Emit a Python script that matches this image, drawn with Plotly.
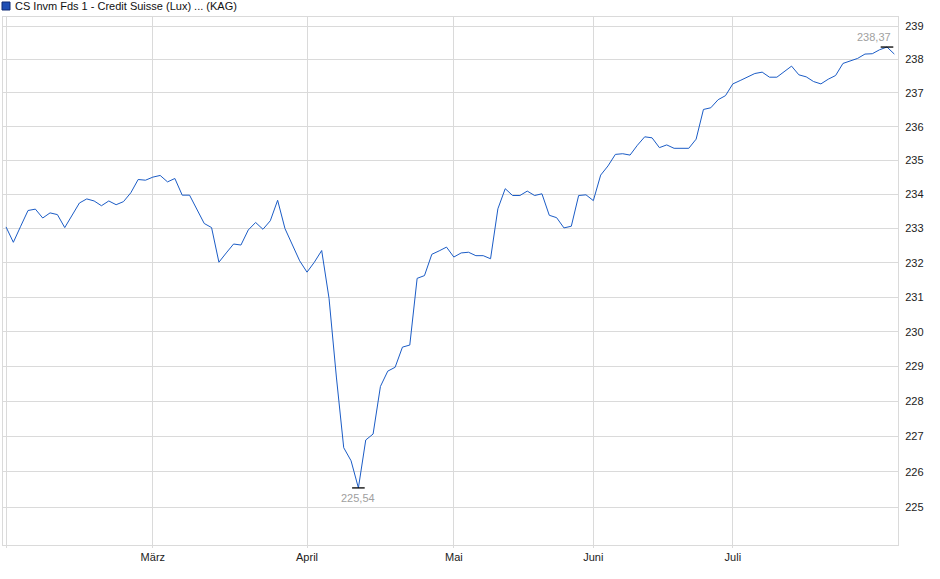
import numpy as np
import pandas as pd
import plotly.graph_objects as go

# fund business days (Luxembourg calendar), Feb - Jul 2025
holidays = ["2025-04-18", "2025-04-21", "2025-05-01", "2025-05-09",
            "2025-05-29", "2025-06-09", "2025-06-23"]
dates = pd.bdate_range("2025-02-03", "2025-07-31", freq="C", holidays=holidays).strftime("%Y-%m-%d").tolist()

prices = [
    233.05, 232.60, 233.07, 233.53, 233.57, 233.31, 233.46, 233.41, 233.03, 233.38,
    233.75, 233.87, 233.81, 233.67, 233.81, 233.70, 233.79, 234.05, 234.44, 234.42,
    234.51, 234.56, 234.37, 234.47, 233.98, 233.98, 233.54, 233.15, 233.03, 232.02,
    232.29, 232.55, 232.52, 232.96, 233.18, 232.98, 233.23, 233.83, 233.00, 232.52,
    232.06, 231.73, 232.02, 232.36, 230.97, 228.70, 226.68, 226.31, 225.54, 226.90,
    227.07, 228.43, 228.87, 228.98, 229.56, 229.62, 231.55, 231.63, 232.25, 232.35,
    232.46, 232.17, 232.29, 232.31, 232.21, 232.21, 232.12, 233.58, 234.17, 233.97,
    233.97, 234.10, 233.97, 234.02, 233.39, 233.32, 233.02, 233.07, 233.97, 233.99,
    233.82, 234.57, 234.84, 235.18, 235.20, 235.16, 235.45, 235.70, 235.67, 235.38,
    235.46, 235.36, 235.36, 235.36, 235.63, 236.51, 236.56, 236.80, 236.92, 237.27,
    237.37, 237.47, 237.58, 237.62, 237.47, 237.47, 237.64, 237.80, 237.54, 237.48,
    237.34, 237.27, 237.41, 237.52, 237.88, 237.95, 238.03, 238.16, 238.17, 238.29,
    238.37, 238.16,
]
assert len(dates) == len(prices), (len(dates), len(prices))

tick_dates = ["2025-02-03", "2025-03-03", "2025-04-01", "2025-05-02", "2025-06-02", "2025-07-01"]
tick_labels = ["", "März", "April", "Mai", "Juni", "Juli"]
y_ticks = list(range(225, 240))

title = "CS Invm Fds 1 - Credit Suisse (Lux) ... (KAG)"
line_col = "#1b5cc6"
grid_col = "#dadada"

i_min = int(np.argmin(prices))
i_max = int(np.argmax(prices))

fig = go.Figure()
fig.add_trace(go.Scatter(x=dates, y=prices, mode="lines",
                         line=dict(color=line_col, width=1), hoverinfo="x+y"))
fig.add_trace(go.Scatter(x=[dates[i_min], dates[i_max]], y=[prices[i_min], prices[i_max]],
                         mode="markers",
                         marker=dict(symbol="line-ew", size=9, line=dict(color="black", width=1.3)),
                         hoverinfo="skip"))

fig.add_annotation(x=dates[i_min], y=np.log10(prices[i_min]), text=f"{prices[i_min]:.2f}".replace(".", ","),
                   showarrow=False, yanchor="top", yshift=-2,
                   font=dict(size=11, color="#a0a0a0"))
fig.add_annotation(x=dates[i_max], y=np.log10(prices[i_max]), text=f"{prices[i_max]:.2f}".replace(".", ","),
                   showarrow=False, xanchor="right", xshift=6, yanchor="bottom", yshift=2,
                   font=dict(size=11, color="#a0a0a0"))

# legend box + label
fig.add_shape(type="rect", xref="paper", yref="paper",
              x0=-1 / 895, x1=7 / 895, y0=535 / 528, y1=543 / 528,
              fillcolor="#1f4fb5", line=dict(color="#0e2a74", width=1))
fig.add_annotation(xref="paper", yref="paper", x=10 / 895, y=539 / 528, text=title,
                   showarrow=False, xanchor="left", yanchor="middle",
                   font=dict(size=11, color="#111111"))

fig.update_layout(
    width=940, height=579,
    margin=dict(l=3, r=42, t=17, b=34),
    paper_bgcolor="white", plot_bgcolor="white",
    showlegend=False,
    font=dict(family="Liberation Sans, Arial, sans-serif", size=11, color="#222222"),
)
fig.update_xaxes(type="category", range=[-0.41, 121.5],
                 tickvals=tick_dates, ticktext=tick_labels,
                 showgrid=True, gridcolor=grid_col, gridwidth=1,
                 showline=True, linecolor=grid_col, mirror=True,
                 ticks="outside", ticklen=2, tickcolor=grid_col, zeroline=False)
fig.update_yaxes(type="log", range=[2.350112, 2.378889], side="right",
                 tickvals=y_ticks, ticktext=[str(v) for v in y_ticks],
                 showgrid=True, gridcolor=grid_col, gridwidth=1,
                 showline=True, linecolor=grid_col, mirror=True,
                 ticks="", ticklabelstandoff=4, zeroline=False)

fig.write_html("out.html", config={"displayModeBar": False},
               post_script="document.body.style.margin='0';")
